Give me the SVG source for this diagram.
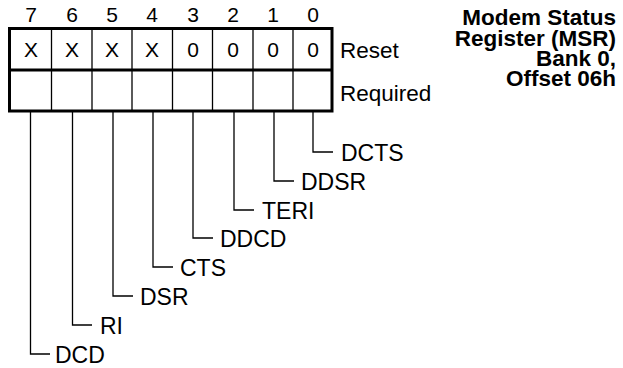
<svg xmlns="http://www.w3.org/2000/svg" width="623" height="368" viewBox="0 0 623 368">
<style>
text{font-family:"Liberation Sans",Arial,sans-serif;font-size:23px;fill:#000}
.c{text-anchor:middle;font-size:21px}
.t{font-weight:bold;text-anchor:end;font-size:22.5px}
.ln{fill:none;stroke:#000;stroke-width:1.3}
</style>
<rect width="623" height="368" fill="#fff"/>
<g id="register">
<rect x="9.5" y="28.5" width="322.5" height="82.5" fill="#fff" stroke="#000" stroke-width="3"/>
<line x1="9.5" y1="70" x2="332" y2="70" stroke="#000" stroke-width="3"/>
<g stroke="#000" stroke-width="1.3">
<line x1="51.5" y1="28" x2="51.5" y2="111"/>
<line x1="92" y1="28" x2="92" y2="111"/>
<line x1="132" y1="28" x2="132" y2="111"/>
<line x1="172.5" y1="28" x2="172.5" y2="111"/>
<line x1="212.5" y1="28" x2="212.5" y2="111"/>
<line x1="253" y1="28" x2="253" y2="111"/>
<line x1="293" y1="28" x2="293" y2="111"/>
</g>
<g>
<text class="c" x="31" y="22">7</text>
<text class="c" x="72" y="22">6</text>
<text class="c" x="112" y="22">5</text>
<text class="c" x="152" y="22">4</text>
<text class="c" x="193" y="22">3</text>
<text class="c" x="233" y="22">2</text>
<text class="c" x="273" y="22">1</text>
<text class="c" x="313" y="22">0</text>
<text class="c" x="31" y="57">X</text>
<text class="c" x="72" y="57">X</text>
<text class="c" x="112" y="57">X</text>
<text class="c" x="152" y="57">X</text>
<text class="c" x="193" y="57">0</text>
<text class="c" x="233" y="57">0</text>
<text class="c" x="273" y="57">0</text>
<text class="c" x="313" y="57">0</text>
</g>
<text x="340" y="58" style="font-size:22.5px">Reset</text>
<text x="340" y="101" style="font-size:22.5px">Required</text>
</g>
<g id="title">
<text class="t" x="616" y="25">Modem Status</text>
<text class="t" x="616" y="45.5">Register (MSR)</text>
<text class="t" x="616" y="65.5">Bank 0,</text>
<text class="t" x="616" y="86">Offset 06h</text>
</g>
<g id="connectors">
<polyline class="ln" points="313,111 313,152 333,152"/>
<polyline class="ln" points="274,111 274,181 294,181"/>
<polyline class="ln" points="234,111 234,210 254,210"/>
<polyline class="ln" points="193,111 193,238 213,238"/>
<polyline class="ln" points="153,111 153,267 173,267"/>
<polyline class="ln" points="113,111 113,296 133,296"/>
<polyline class="ln" points="72.5,111 72.5,325 92,325"/>
<polyline class="ln" points="30.5,111 30.5,354 50,354"/>
</g>
<g id="labels">
<text x="341" y="161">DCTS</text>
<text x="301" y="190">DDSR</text>
<text x="262" y="219">TERI</text>
<text x="220" y="247">DDCD</text>
<text x="180" y="276">CTS</text>
<text x="140" y="305">DSR</text>
<text x="100" y="334">RI</text>
<text x="55" y="363">DCD</text>
</g>
</svg>
